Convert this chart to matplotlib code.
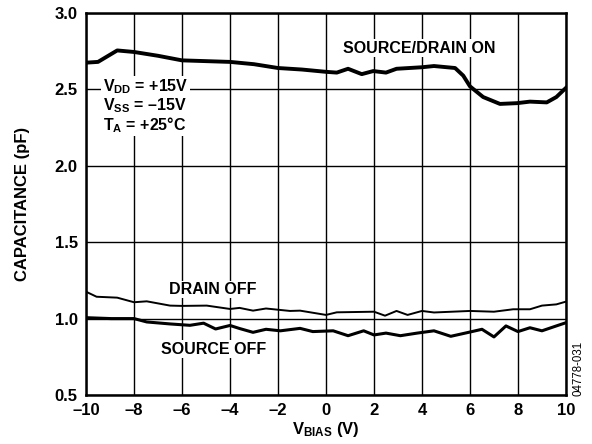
import matplotlib.pyplot as plt

plt.rcParams['font.family'] = 'Liberation Sans'
plt.rcParams['font.weight'] = 'bold'
plt.rcParams['mathtext.fontset'] = 'custom'
plt.rcParams['mathtext.rm'] = 'Liberation Sans:bold'
plt.rcParams['mathtext.bf'] = 'Liberation Sans:bold'

# Source/drain ON capacitance (pF) vs V_BIAS
v_on = [-10, -9.5, -8.7, -8, -7, -6, -4, -3, -2, -1, 0, 0.45, 0.92, 1.49, 1.97,
        2.5, 2.94, 4.0, 4.5, 5.38, 5.72, 6.0, 6.55, 7.25, 7.96, 8.5, 9.2, 9.6, 10]
c_on = [2.675, 2.68, 2.755, 2.745, 2.72, 2.69, 2.68, 2.665, 2.64, 2.63, 2.615, 2.61, 2.635, 2.60, 2.62,
        2.61, 2.635, 2.645, 2.653, 2.64, 2.59, 2.52, 2.45, 2.405, 2.41, 2.42, 2.415, 2.45, 2.51]

# Drain OFF
v_doff = [-10, -9.56, -8.7, -8, -7.47, -6.5, -6, -4.97, -4, -3.6, -3.04, -2.5, -1.5, -1.08,
          0, 0.45, 2.0, 2.46, 2.94, 3.4, 4.0, 4.5, 6.0, 7.0, 7.8, 8.5, 9.0, 9.6, 10]
c_doff = [1.176, 1.143, 1.137, 1.107, 1.113, 1.085, 1.083, 1.085, 1.063, 1.07, 1.052, 1.066, 1.05, 1.052,
          1.024, 1.041, 1.045, 1.019, 1.05, 1.024, 1.05, 1.04, 1.05, 1.045, 1.061, 1.061, 1.085, 1.093, 1.111]

# Source OFF
v_soff = [-10, -8.96, -8, -7.47, -6.5, -5.67, -5.1, -4.6, -4, -3.6, -3.04, -2.5, -1.9, -1.08,
          -0.55, 0.3, 0.92, 1.57, 2.0, 2.5, 3.1, 3.8, 4.5, 5.2, 6.0, 6.5, 7.0, 7.5, 8.0, 8.5, 9.0, 9.6, 10]
c_soff = [1.006, 1.0, 1.0, 0.978, 0.965, 0.956, 0.97, 0.932, 0.955, 0.935, 0.91, 0.93, 0.92, 0.936,
          0.915, 0.92, 0.888, 0.92, 0.893, 0.905, 0.888, 0.905, 0.92, 0.884, 0.912, 0.93, 0.88, 0.952, 0.915, 0.94, 0.92, 0.952, 0.973]

xticks = [-10, -8, -6, -4, -2, 0, 2, 4, 6, 8, 10]
xticklabels = ['\u201310', '\u20138', '\u20136', '\u20134', '\u20132', '0', '2', '4', '6', '8', '10']
yticks = [0.5, 1.0, 1.5, 2.0, 2.5, 3.0]

fig = plt.figure(figsize=(5.92, 4.44), dpi=100)
ax = fig.add_axes([0.1453, 0.1104, 0.8107, 0.8603])

ax.plot(v_on, c_on, color='black', lw=2.8, zorder=3)
ax.plot(v_doff, c_doff, color='black', lw=1.4, zorder=3)
ax.plot(v_soff, c_soff, color='black', lw=2.2, zorder=3)

ax.set_xlim(-10, 10)
ax.set_ylim(0.5, 3.0)
ax.set_xticks(xticks)
ax.set_xticklabels(xticklabels)
ax.set_yticks(yticks)
ax.set_yticklabels(['%.1f' % y for y in yticks])
ax.tick_params(length=0, labelsize=12, pad=6)
ax.grid(True, color='black', lw=1.0)
for s in ax.spines.values():
    s.set_linewidth(1.8)

ax.set_xlabel(r'$\mathrm{V_{BIAS}}$ (V)', fontsize=12, fontweight='bold', labelpad=1)
ax.set_ylabel('CAPACITANCE (pF)', fontsize=12, fontweight='bold', labelpad=18)

bbox = dict(facecolor='white', edgecolor='none', pad=1)
ax.text(3.9, 2.77, 'SOURCE/DRAIN ON', ha='center', va='center', fontsize=11.5,
        bbox=bbox, zorder=4)
ax.text(-9.3, 2.39, '$\\mathrm{V_{DD}}$ = +15V\n$\\mathrm{V_{SS}}$ = \u201315V\n$\\mathrm{T_A}$ = +25\u00b0C',
        ha='left', va='center', fontsize=11.5, linespacing=1.0, bbox=bbox, zorder=4)
ax.text(-4.7, 1.19, 'DRAIN OFF', ha='center', va='center', fontsize=11.5, bbox=bbox, zorder=4)
ax.text(-4.7, 0.80, 'SOURCE OFF', ha='center', va='center', fontsize=11.5, bbox=bbox, zorder=4)

fig.text(0.977, 0.17, '04778-031', rotation=90, ha='center', va='center',
         fontsize=8.3, fontweight='normal')

fig.savefig('out.png', dpi=100)
